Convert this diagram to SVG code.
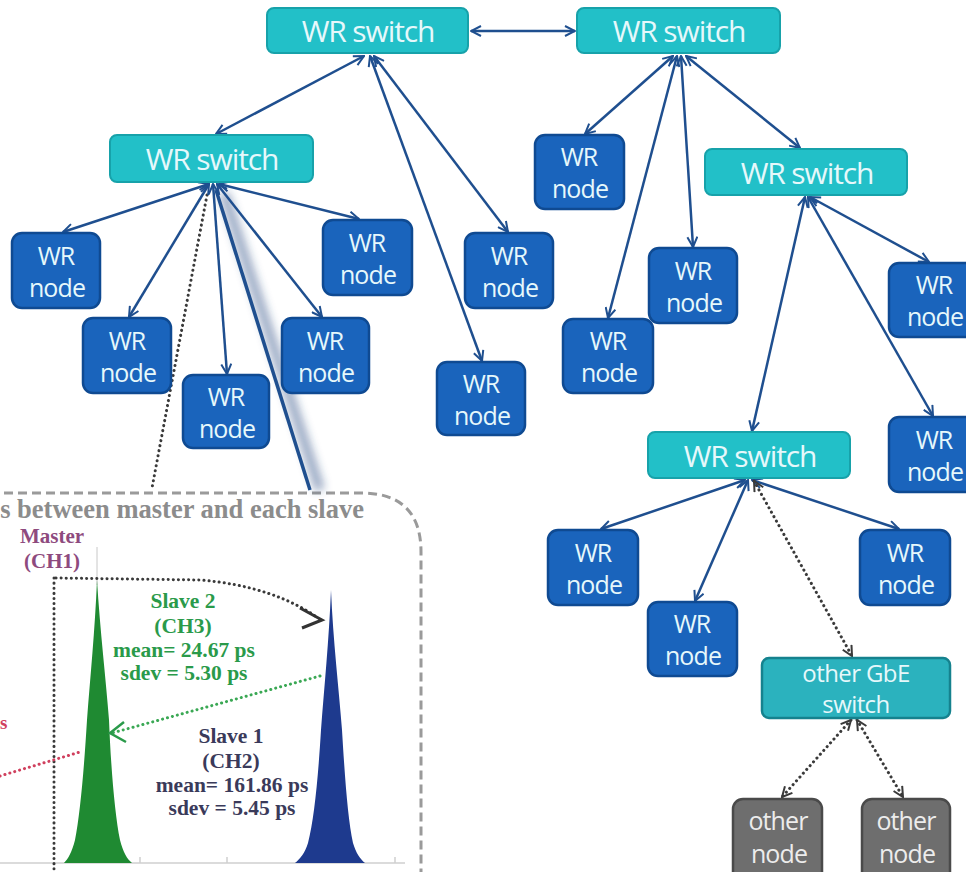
<svg xmlns="http://www.w3.org/2000/svg" width="966" height="872" viewBox="0 0 966 872">
<style>
.sw{fill:#22c0c8;stroke:#17a2aa;stroke-width:2}
.gbe{fill:#2bb2be;stroke:#15828e;stroke-width:2.5}
.nd{fill:#1a64bc;stroke:#0f4a92;stroke-width:2.5}
.ot{fill:#6e6e6e;stroke:#4a4a4a;stroke-width:2.5}
.tx{font-family:"Open Sans","Noto Sans",sans-serif;fill:#e6f8fb;text-anchor:middle}
.st{font-size:30px;letter-spacing:-1.1px}
.nt{font-size:25px;letter-spacing:-0.9px}
.gt{font-size:24px;letter-spacing:-0.6px}
.c{fill:none;stroke:#1f4f8f;stroke-width:2.5;marker-start:url(#a);marker-end:url(#a)}
.d{fill:none;stroke:#3a3a3a;stroke-width:3;stroke-dasharray:0.1 5;stroke-linecap:round}
.dm{marker-start:url(#g);marker-end:url(#g)}
.sf{font-family:"Liberation Serif","Times New Roman",serif;font-weight:bold;text-anchor:middle}
</style>
<defs>
<marker id="a" viewBox="0 0 12 12" refX="11" refY="6" markerWidth="12" markerHeight="12" markerUnits="userSpaceOnUse" orient="auto-start-reverse"><path d="M1,1 L11,6 L1,11" fill="none" stroke="#1f4f8f" stroke-width="2"/></marker>
<marker id="g" viewBox="0 0 12 12" refX="11" refY="6" markerWidth="12" markerHeight="12" markerUnits="userSpaceOnUse" orient="auto-start-reverse"><path d="M1,1 L11,6 L1,11" fill="none" stroke="#3a3a3a" stroke-width="2"/></marker>
<filter id="sh" x="-50%" y="-20%" width="200%" height="140%"><feGaussianBlur stdDeviation="5"/></filter>
</defs>
<rect width="966" height="872" fill="#ffffff"/>

<!-- inset -->
<g id="inset">
<path d="M-10,493 L365,493 Q421,495 421,552 L421,880" fill="none" stroke="#9a9a9a" stroke-width="3" stroke-dasharray="9 5"/>
<text x="364" y="518" class="sf" style="text-anchor:end" font-size="26.5" fill="#8c8c8c">s between master and each slave</text>
<text x="52" y="543" class="sf" font-size="21" fill="#8e4a7e">Master</text>
<text x="52" y="568" class="sf" font-size="21" fill="#8e4a7e">(CH1)</text>
<line x1="97" y1="547" x2="97" y2="585" stroke="#c8c8c8" stroke-width="1"/>
<line x1="0" y1="863" x2="405" y2="863" stroke="#cfcfcf" stroke-width="1.5"/>
<g stroke="#cfcfcf" stroke-width="1.5"><line x1="140" y1="857" x2="140" y2="863"/><line x1="227" y1="857" x2="227" y2="863"/><line x1="313" y1="857" x2="313" y2="863"/><line x1="395" y1="857" x2="395" y2="863"/></g>
<path d="M97,580 C95,630 90,680 87,720 C84,770 80,815 75,840 C72,852 68,859 64,863 L132,863 C127,859 123,852 120,840 C115,815 111,770 109,720 C106,680 100,630 97,580 Z" fill="#1f8a32"/>
<path d="M331,590 C329,640 324,690 321,730 C318,780 314,820 308,843 C305,853 300,859 295,863 L365,863 C360,859 356,853 353,843 C348,820 345,780 342,730 C339,690 333,640 331,590 Z" fill="#1e3a8e"/>
<line x1="54" y1="578" x2="54" y2="872" class="d" stroke="#555"/>
<path d="M56,578 L200,580 C250,584 290,598 318,618" class="d"/>
<path d="M300,608 L322,620 L302,628" fill="none" stroke="#333" stroke-width="3"/>
<path d="M320,676 L112,733" fill="none" stroke="#3aa854" stroke-width="3" stroke-dasharray="0.1 5" stroke-linecap="round"/>
<path d="M124,722 L110,733 L126,742" fill="none" stroke="#2a9a4a" stroke-width="2.5"/>
<path d="M0,776 L80,752" fill="none" stroke="#d0405e" stroke-width="3" stroke-dasharray="0.1 5" stroke-linecap="round"/>
<text x="0" y="729" class="sf" style="text-anchor:start" font-size="19" fill="#d0405e">s</text>
<g class="sf" font-size="21.5" fill="#2a9a4a">
<text x="183" y="608">Slave 2</text>
<text x="183" y="633">(CH3)</text>
<text x="184" y="657">mean= 24.67 ps</text>
<text x="184" y="680">sdev = 5.30 ps</text>
</g>
<g class="sf" font-size="21.5" fill="#3a3a5a">
<text x="231" y="743">Slave 1</text>
<text x="231" y="768">(CH2)</text>
<text x="232" y="792">mean= 161.86 ps</text>
<text x="232" y="815">sdev = 5.45 ps</text>
</g>
</g>

<!-- connectors -->
<g id="connectors">
<line x1="224" y1="193" x2="320" y2="490" stroke="#1f3f7a" stroke-width="9" opacity="0.5" filter="url(#sh)"/>
<line x1="216" y1="190" x2="310" y2="490" stroke="#1f4f8f" stroke-width="3.5"/>
<line x1="207" y1="195" x2="152" y2="488" class="d"/>
<line x1="471" y1="31" x2="575" y2="31" class="c"/>
<line x1="364" y1="56" x2="216" y2="134" class="c"/>
<line x1="374" y1="56" x2="508" y2="232" class="c"/>
<line x1="370" y1="56" x2="482" y2="361" class="c"/>
<line x1="673" y1="56" x2="585" y2="134" class="c"/>
<line x1="677" y1="56" x2="608" y2="318" class="c"/>
<line x1="681" y1="56" x2="693" y2="247" class="c"/>
<line x1="686" y1="56" x2="800" y2="148" class="c"/>
<line x1="810" y1="197" x2="929" y2="262" class="c"/>
<line x1="805" y1="197" x2="752" y2="431" class="c"/>
<line x1="808" y1="197" x2="933" y2="416" class="c"/>
<line x1="209" y1="184" x2="63" y2="232" class="c"/>
<line x1="209" y1="184" x2="129" y2="317" class="c"/>
<line x1="213" y1="184" x2="227" y2="374" class="c"/>
<line x1="217" y1="184" x2="322" y2="317" class="c"/>
<line x1="219" y1="184" x2="359" y2="219" class="c"/>
<line x1="745" y1="480" x2="601" y2="529" class="c"/>
<line x1="748" y1="480" x2="695" y2="601" class="c"/>
<line x1="752" y1="480" x2="899" y2="529" class="c"/>
<line x1="754" y1="481" x2="852" y2="656" class="d dm"/>
<line x1="851" y1="720" x2="782" y2="797" class="d dm"/>
<line x1="857" y1="720" x2="903" y2="797" class="d dm"/>
</g>

<!-- switches -->
<g id="sw-top-left"><rect x="267" y="8" width="201" height="45" rx="7" class="sw"/><text x="368" y="42" class="tx st">WR switch</text></g>
<g id="sw-top-right"><rect x="577" y="8" width="203" height="45" rx="7" class="sw"/><text x="679" y="42" class="tx st">WR switch</text></g>
<g id="sw-mid-left"><rect x="110" y="135" width="203" height="47" rx="7" class="sw"/><text x="212" y="170" class="tx st">WR switch</text></g>
<g id="sw-right"><rect x="705" y="149" width="202" height="46" rx="7" class="sw"/><text x="807" y="184" class="tx st">WR switch</text></g>
<g id="sw-lower"><rect x="648" y="432" width="202" height="46" rx="7" class="sw"/><text x="750" y="467" class="tx st">WR switch</text></g>
<g id="sw-gbe"><rect x="762" y="658" width="188" height="60" rx="7" class="gbe"/><text x="856" y="682" class="tx gt">other GbE</text><text x="856" y="713" class="tx gt">switch</text></g>

<!-- WR nodes -->
<g id="n1"><rect x="12" y="233" width="88" height="75" rx="10" class="nd"/><text x="56" y="265" class="tx nt">WR</text><text x="57" y="297" class="tx nt">node</text></g>
<g id="n2"><rect x="83" y="318" width="88" height="75" rx="10" class="nd"/><text x="127" y="350" class="tx nt">WR</text><text x="128" y="382" class="tx nt">node</text></g>
<g id="n3"><rect x="183" y="375" width="86" height="73" rx="10" class="nd"/><text x="226" y="406" class="tx nt">WR</text><text x="227" y="438" class="tx nt">node</text></g>
<g id="n4"><rect x="282" y="318" width="87" height="75" rx="10" class="nd"/><text x="325" y="350" class="tx nt">WR</text><text x="326" y="382" class="tx nt">node</text></g>
<g id="n5"><rect x="323" y="220" width="89" height="75" rx="10" class="nd"/><text x="367" y="252" class="tx nt">WR</text><text x="368" y="284" class="tx nt">node</text></g>
<g id="n6"><rect x="465" y="233" width="88" height="75" rx="10" class="nd"/><text x="509" y="265" class="tx nt">WR</text><text x="510" y="297" class="tx nt">node</text></g>
<g id="n7"><rect x="437" y="362" width="88" height="73" rx="10" class="nd"/><text x="481" y="393" class="tx nt">WR</text><text x="482" y="425" class="tx nt">node</text></g>
<g id="n8"><rect x="535" y="135" width="89" height="74" rx="10" class="nd"/><text x="579" y="166" class="tx nt">WR</text><text x="580" y="198" class="tx nt">node</text></g>
<g id="n9"><rect x="563" y="319" width="90" height="74" rx="10" class="nd"/><text x="608" y="350" class="tx nt">WR</text><text x="609" y="382" class="tx nt">node</text></g>
<g id="n10"><rect x="649" y="248" width="88" height="75" rx="10" class="nd"/><text x="693" y="280" class="tx nt">WR</text><text x="694" y="312" class="tx nt">node</text></g>
<g id="n11"><rect x="889" y="263" width="90" height="74" rx="10" class="nd"/><text x="934" y="294" class="tx nt">WR</text><text x="935" y="326" class="tx nt">node</text></g>
<g id="n12"><rect x="889" y="417" width="90" height="75" rx="10" class="nd"/><text x="934" y="449" class="tx nt">WR</text><text x="935" y="481" class="tx nt">node</text></g>
<g id="n13"><rect x="548" y="530" width="90" height="75" rx="10" class="nd"/><text x="593" y="562" class="tx nt">WR</text><text x="594" y="594" class="tx nt">node</text></g>
<g id="n14"><rect x="648" y="602" width="89" height="74" rx="10" class="nd"/><text x="692" y="633" class="tx nt">WR</text><text x="693" y="665" class="tx nt">node</text></g>
<g id="n15"><rect x="860" y="530" width="90" height="75" rx="10" class="nd"/><text x="905" y="562" class="tx nt">WR</text><text x="906" y="594" class="tx nt">node</text></g>

<!-- other nodes -->
<g id="o1"><rect x="733" y="799" width="89" height="85" rx="10" class="ot"/><text x="778" y="830" class="tx nt" style="fill:#ececec">other</text><text x="779" y="863" class="tx nt" style="fill:#ececec">node</text></g>
<g id="o2"><rect x="862" y="799" width="88" height="85" rx="10" class="ot"/><text x="906" y="830" class="tx nt" style="fill:#ececec">other</text><text x="907" y="863" class="tx nt" style="fill:#ececec">node</text></g>
</svg>
